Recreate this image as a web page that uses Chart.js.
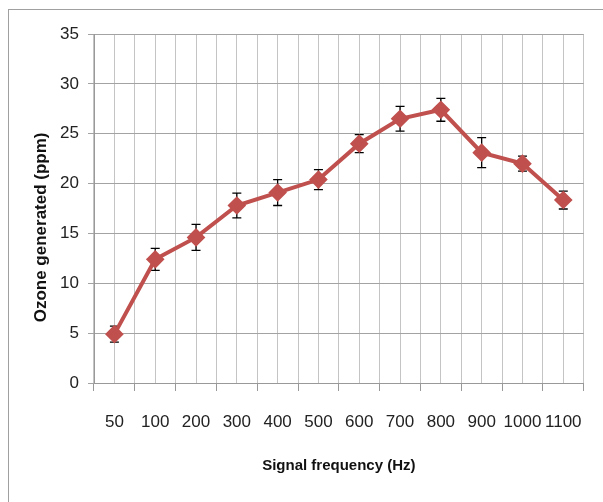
<!DOCTYPE html>
<html>
<head>
<meta charset="utf-8">
<script src="https://cdn.jsdelivr.net/npm/chart.js@4"></script>
<style>
	html, body { margin: 0; padding: 0; background: #fff; }
	#wrap { position: relative; width: 603px; height: 502px; overflow: hidden; }
	#frame { position: absolute; left: 8px; top: 9px; width: 700px; height: 600px; border-left: 1px solid #a0a0a0; border-top: 1px solid #a0a0a0; }
	canvas { position: absolute; left: 0; top: 0; }
</style>
</head>
<body>
<div id="wrap">
	<div id="frame"></div>
	<canvas id="ozoneChart" width="603" height="502"></canvas>
</div>
<script>
'use strict';

const frequencies = ['50', '100', '200', '300', '400', '500', '600', '700', '800', '900', '1000', '1100'];
const ozone = [4.9, 12.4, 14.6, 17.8, 19.1, 20.4, 24.0, 26.5, 27.4, 23.1, 22.0, 18.35];
const ozoneErr = [0.8, 1.1, 1.3, 1.25, 1.3, 1.0, 0.9, 1.25, 1.15, 1.5, 0.75, 0.9];
const yTicks = [0, 5, 10, 15, 20, 25, 30, 35];

const tickFont = { family: '"Liberation Sans", sans-serif', size: 17 };

// error bars, drawn under the markers
const errorBars = {
	id: 'errorBars',
	beforeDatasetsDraw(chart) {
		const ctx = chart.ctx;
		const x = chart.scales.x;
		const y = chart.scales.y;
		ctx.save();
		ctx.strokeStyle = '#000';
		ctx.lineWidth = 1.3;
		ozone.forEach((v, i) => {
			const px = x.getPixelForValue(i);
			const top = y.getPixelForValue(v + ozoneErr[i]);
			const bot = y.getPixelForValue(v - ozoneErr[i]);
			ctx.beginPath();
			ctx.moveTo(px, top);
			ctx.lineTo(px, bot);
			ctx.moveTo(px - 4.5, top);
			ctx.lineTo(px + 4.5, top);
			ctx.moveTo(px - 4.5, bot);
			ctx.lineTo(px + 4.5, bot);
			ctx.stroke();
		});
		ctx.restore();
	}
};

let config = {
	type: 'line',
	data: {
		labels: frequencies,
		datasets: [{
			data: ozone,
			borderColor: '#c0504d',
			backgroundColor: '#c0504d',
			borderWidth: 4,
			pointStyle: 'rectRot',
			pointRadius: 6.5,
			pointHoverRadius: 6.5,
			tension: 0
		}]
	},
	options: {
		responsive: false,
		animation: false,
		layout: { padding: { left: 31, top: 34, right: 10, bottom: 24 } },
		plugins: { legend: { display: false }, tooltip: { enabled: false } },
		scales: {
			x: {
				offset: true,
				grid: { offset: true, color: '#c4c4c4', tickColor: '#999', tickLength: 8 },
				border: { color: '#999' },
				ticks: { font: tickFont, color: '#222', padding: 21, maxRotation: 0, autoSkip: false },
				title: {
					display: true,
					text: 'Signal frequency (Hz)',
					color: '#111',
					font: { family: '"Liberation Sans", sans-serif', size: 15, weight: 'bold' },
					padding: { top: 0, bottom: 3 }
				},
				afterFit: (scale) => { scale.height = 95; }
			},
			xCenter: {
				type: 'category',
				labels: frequencies,
				offset: true,
				position: 'bottom',
				grid: { offset: false, color: '#c4c4c4', drawTicks: false },
				border: { display: false },
				ticks: { display: false },
				afterFit: (scale) => { scale.height = 0; }
			},
			y: {
				min: 0,
				max: 35,
				afterBuildTicks: (scale) => { scale.ticks = yTicks.map(v => ({ value: v })); },
				grid: { color: '#a3a3a3', tickColor: '#a3a3a3', tickLength: 6 },
				border: { color: '#999' },
				ticks: { font: tickFont, color: '#222', padding: 9 },
				title: {
					display: true,
					// trailing spaces push the text down a little, as in the original
					text: 'Ozone generated (ppm)\u00a0\u00a0\u00a0\u00a0\u00a0\u00a0\u00a0\u00a0',
					color: '#111',
					font: { family: '"Liberation Sans", sans-serif', size: 17, weight: 'bold' },
					padding: 0
				},
				afterFit: (scale) => { scale.width = 63; }
			}
		}
	},
	plugins: [errorBars]
};

window.addEventListener('load', function() {
	let ctx = document.getElementById('ozoneChart').getContext('2d');
	const ozoneChart = new Chart(ctx, config);
}, false);
</script>
</body>
</html>
